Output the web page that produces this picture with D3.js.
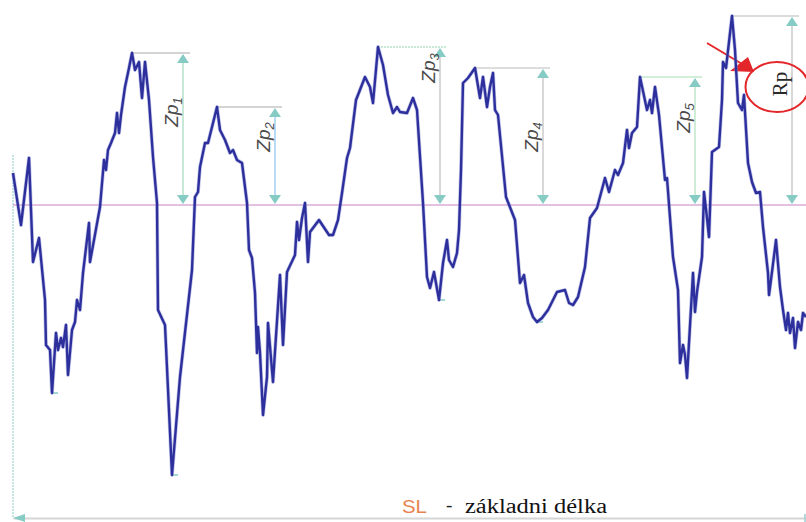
<!DOCTYPE html>
<html>
<head>
<meta charset="utf-8">
<script src="https://cdn.jsdelivr.net/npm/d3@7"></script>
<style>
  html, body { margin: 0; padding: 0; background: #ffffff; }
  svg { display: block; }
</style>
</head>
<body>
<script>
// Surface roughness profile: position along the sampling length and height above the mean line
const profilePos = [
  0, 8, 16, 20, 26, 32, 33, 37, 39, 43, 45, 48, 50, 53, 55, 59, 62, 64, 67, 70,
  76, 77, 81, 87, 91, 93, 95, 98, 102, 104, 106, 108, 112, 116, 119, 122, 126, 129, 132, 136,
  140, 144, 145, 152, 159, 167, 179, 182, 185, 187, 192, 195, 200, 204, 207, 212, 217, 220, 224, 229,
  232, 234, 236, 239, 242, 244, 245, 247, 250, 254, 255, 260, 267, 270, 274, 282, 284, 286, 289, 292,
  295, 297, 306, 316, 320, 325, 329, 334, 337, 343, 352, 357, 360, 365, 370, 375, 380, 384, 387, 394,
  400, 404, 410, 414, 417, 421, 426, 430, 434, 436, 440, 444, 446, 448, 450, 455, 462, 467, 470, 474,
  477, 480, 482, 485, 493, 502, 507, 511, 515, 520, 524, 529, 535, 544, 552, 556, 560, 565, 572, 577,
  584, 592, 596, 602, 605, 610, 614, 616, 619, 624, 627, 634, 637, 639, 642, 646, 652, 654, 660, 665,
  667, 670, 672, 674, 680, 682, 684, 689, 691, 694, 696, 699, 706, 709, 710, 713, 719, 722, 725, 729,
  731, 735, 739, 743, 747, 750, 755, 756, 759, 763, 767, 770, 773, 775, 777, 780, 782, 785, 788, 790,
  793
];
const profileHeight = [
  32, -20, 47, -57, -33, -95, -140, -145, -188, -128, -145, -133, -142, -120, -170, -125, -117, -95, -105, -68,
  -18, -57, -35, -2, 45, 35, 55, 62, 72, 92, 72, 90, 118, 137, 152, 135, 143, 107, 143, 105,
  48, 2, -105, -120, -270, -172, -65, 8, 13, 38, 62, 62, 82, 98, 75, 65, 52, 55, 45, 42,
  18, 2, -45, -53, -88, -148, -122, -148, -210, -172, -118, -177, -70, -140, -67, -50, -17, -35, -13, 2,
  -57, -27, -15, -30, -30, -15, 12, 47, 57, 105, 128, 118, 102, 158, 140, 110, 92, 98, 93, 92,
  107, 95, 2, -72, -83, -67, -95, -58, -35, -55, -62, -48, -25, 35, 122, 127, 137, 107, 128, 98,
  118, 132, 95, 90, 8, -15, -78, -70, -98, -112, -117, -113, -105, -87, -85, -98, -100, -92, -62, -13,
  -3, 27, 13, 35, 30, 42, 75, 57, 72, 78, 128, 95, 105, 92, 118, 90, 25, 27, -52, -85,
  -158, -140, -150, -173, -68, -107, -87, -52, 13, -13, -32, 53, 58, 105, 143, 137, 189, 155, 102, 95,
  110, 42, 23, 12, 13, -22, -68, -90, -67, -35, -82, -105, -125, -108, -128, -113, -143, -117, -125, -108,
  -112
];

// Peak heights above the mean line
const zpNames = ["1", "2", "3", "4", "5"];
const zpHeights = [152, 98, 158, 137, 128];
const rpName = "Rp";
const rpHeight = 189;

// Caption under the profile
const captionSymbol = "SL";
const captionText = "základni délka";

const W = 806, H = 522;
const svg = d3.select("body").append("svg")
  .attr("width", W).attr("height", H)
  .attr("viewBox", `0 0 ${W} ${H}`);

const x = d3.scaleLinear().domain([0, 793]).range([13, 806]);
const y = d3.scaleLinear().domain([-313, 205]).range([518, 0]);

const profile = profilePos.map((p, i) => ({ p, z: profileHeight[i] }));

// --- frame: sampling-length base line and left edge ---
const base = svg.append("g").attr("transform", `translate(0,${y(-313)})`)
  .call(d3.axisBottom(x).tickValues([]).tickSizeOuter(0));
base.select(".domain").attr("stroke", "#d6d6d6").attr("stroke-width", 2);
svg.append("path")
  .attr("d", `M${x(0)},${y(-313)} l12,-4 l0,8 z`)
  .attr("fill", "#86cbc4");
svg.append("line")
  .attr("x1", x(793) - 1).attr("x2", x(793) - 1)
  .attr("y1", y(-313) - 4).attr("y2", y(-313) + 4)
  .attr("stroke", "#9ccfd0").attr("stroke-width", 1.5);

svg.append("line")
  .attr("x1", x(0)).attr("x2", x(0))
  .attr("y1", y(50)).attr("y2", y(-313))
  .attr("stroke", "#a6d8d2").attr("stroke-width", 1.3)
  .attr("stroke-dasharray", "2,1");

// --- mean line ---
svg.append("line")
  .attr("x1", x(0)).attr("x2", x(793))
  .attr("y1", y(0)).attr("y2", y(0))
  .attr("stroke", "#c584c8").attr("stroke-width", 1.2);

// --- peak dimension lines ---
const arrowPos = [170, 262, 427, 530, 682, 779];
const labelZ = [93, 68, 137, 68, 87, 121];
const vColors = ["#b9e2cc", "#a9d2f2", "#cfcfcf", "#cfcfcf", "#c2e8cc", "#cfcfcf"];
const hColors = ["#c6c6c6", "#c6c6c6", "#b5e2c5", "#d2d2d2", "#c2e8cc", "#cfcfcf"];

const peaks = zpHeights.map((h, i) => ({ h, name: zpNames[i], isRp: false }))
  .concat([{ h: rpHeight, name: rpName, isRp: true }]);

peaks.forEach((d, i) => {
  const a = arrowPos[i];
  const peakPt = profile.filter(q => q.p >= a - 80 && q.p <= a)
    .reduce((m, q) => (q.z > m.z ? q : m));
  d.peakP = peakPt.p;
  const ax = x(a);
  const g = svg.append("g");
  g.append("line")
    .attr("x1", x(d.peakP)).attr("x2", ax + 7)
    .attr("y1", y(d.h)).attr("y2", y(d.h))
    .attr("stroke", hColors[i]).attr("stroke-width", 1.3)
    .attr("stroke-dasharray", i === 2 ? "2,1" : null);
  g.append("line")
    .attr("x1", ax).attr("x2", ax)
    .attr("y1", y(d.h) + 6).attr("y2", y(0) - 6)
    .attr("stroke", vColors[i]).attr("stroke-width", 1.6);
  g.append("path")
    .attr("d", `M${ax},${y(d.h) + 1} l-6,9 l12,0 z`)
    .attr("fill", "#86cbc4");
  g.append("path")
    .attr("d", `M${ax},${y(0) - 1} l-6,-9 l12,0 z`)
    .attr("fill", "#86cbc4");

  const lx = ax - 12, ly = y(labelZ[i]);
  if (!d.isRp) {
    const t = g.append("text")
      .attr("transform", `translate(${lx},${ly}) rotate(-90)`)
      .attr("text-anchor", "middle")
      .attr("dy", "0.35em")
      .attr("font-family", "Liberation Sans, Arial, sans-serif")
      .attr("font-style", "italic")
      .attr("font-size", 19)
      .attr("fill", "#4a4a4a");
    t.append("tspan").text("Zp");
    t.append("tspan").attr("font-size", 13).attr("dy", "0.3em").text(d.name);
  } else {
    g.append("text")
      .attr("transform", `translate(${lx},${ly}) rotate(-90)`)
      .attr("text-anchor", "middle")
      .attr("dy", "0.35em")
      .attr("font-family", "Liberation Serif, Times New Roman, serif")
      .attr("font-size", 21)
      .attr("fill", "#2a2a2a")
      .text(d.name);
    // red highlight around the Rp label
    const cx = lx - 3, cy = ly + 3;
    g.append("ellipse")
      .attr("cx", cx).attr("cy", cy).attr("rx", 31.5).attr("ry", 25)
      .attr("fill", "none").attr("stroke", "#e3262a").attr("stroke-width", 2);
    g.append("line")
      .attr("x1", cx - 70).attr("y1", cy - 44)
      .attr("x2", cx - 35).attr("y2", cy - 23)
      .attr("stroke", "#e3262a").attr("stroke-width", 2);
    g.append("path")
      .attr("d", `M${cx - 47},${cy - 16} L${cx - 29},${cy - 30} L${cx - 23},${cy - 15} Z`)
      .attr("fill", "#e3262a");
  }
});

// small marks at the deepest valleys
const valleyWindows = [[30, 60], [150, 170], [420, 440], [515, 535]];
valleyWindows.forEach(([lo, hi]) => {
  const v = profile.filter(q => q.p >= lo && q.p <= hi)
    .reduce((m, q) => (q.z < m.z ? q : m));
  svg.append("line")
    .attr("x1", x(v.p)).attr("x2", x(v.p) + 6)
    .attr("y1", y(v.z)).attr("y2", y(v.z))
    .attr("stroke", "#86cbc4").attr("stroke-width", 1.5);
});

// --- the profile itself ---
const line = d3.line().x(d => x(d.p)).y(d => y(d.z));
svg.append("path")
  .datum(profile)
  .attr("d", line)
  .attr("fill", "none")
  .attr("stroke", "#8f95d6")
  .attr("stroke-width", 3.8)
  .attr("stroke-linejoin", "round")
  .attr("opacity", 0.55);
svg.append("path")
  .datum(profile)
  .attr("d", line)
  .attr("fill", "none")
  .attr("stroke", "#2c2f9c")
  .attr("stroke-width", 2.4)
  .attr("stroke-linejoin", "round");

// --- caption ---
svg.append("text")
  .attr("x", 402).attr("y", 513)
  .attr("font-family", "Liberation Sans, Arial, sans-serif")
  .attr("font-size", 18)
  .attr("textLength", 25).attr("lengthAdjust", "spacingAndGlyphs")
  .attr("fill", "#e8834e")
  .text(captionSymbol);
svg.append("text")
  .attr("x", 446).attr("y", 511)
  .attr("font-family", "Liberation Serif, Times New Roman, serif")
  .attr("font-size", 19)
  .attr("fill", "#222")
  .text("-");
svg.append("text")
  .attr("x", 465).attr("y", 513)
  .attr("font-family", "Liberation Serif, Times New Roman, serif")
  .attr("font-size", 20)
  .attr("textLength", 142).attr("lengthAdjust", "spacingAndGlyphs")
  .attr("fill", "#111")
  .text(captionText);
</script>
</body>
</html>
